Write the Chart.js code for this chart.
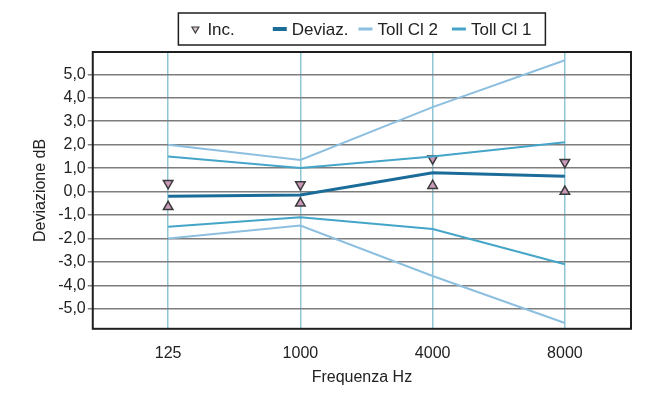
<!DOCTYPE html>
<html>
<head>
<meta charset="utf-8">
<script src="https://cdn.jsdelivr.net/npm/chart.js@4/dist/chart.umd.min.js"></script>
<style>
html, body { margin: 0; padding: 0; background: #fff; }
#wrap { width: 651px; height: 393px; }
</style>
</head>
<body>
<div id="wrap"><canvas id="chart" width="651" height="393"></canvas></div>
<script>
var frequencies = ["125", "1000", "4000", "8000"];
var yTicks = [-5, -4, -3, -2, -1, 0, 1, 2, 3, 4, 5];

var deviation = [-0.2, -0.15, 0.8, 0.65];
var incUpper = [0.35, 0.3, 1.4, 1.25];
var incLower = [-0.65, -0.5, 0.25, 0.0];
var tol2Upper = [2.0, 1.35, 3.6, 5.6];
var tol2Lower = [-2.0, -1.45, -3.6, -5.6];
var tol1Upper = [1.5, 1.0, 1.5, 2.1];
var tol1Lower = [-1.5, -1.1, -1.6, -3.1];

var FONT = "'Liberation Sans', Arial, sans-serif";
var devColor = "#1c6c9a";
var tol2Color = "#8dbfe0";
var tol1Color = "#45a5c8";
var incFill = "#c99ab9";
var incBorder = "#3a3a3a";

function toPoints(values) {
    return values.map(function(v, i) {
        return { x: i, y: v };
    });
}

function lineSet(label, values, color, width) {
    return {
        label: label,
        data: toPoints(values),
        borderColor: color,
        backgroundColor: color,
        borderWidth: width,
        pointRadius: 0,
        fill: false,
        tension: 0
    };
}

function markerSet(label, values, rotation) {
    return {
        label: label,
        data: toPoints(values),
        showLine: false,
        pointStyle: "triangle",
        rotation: rotation,
        pointRadius: 5.5,
        pointBackgroundColor: incFill,
        pointBorderColor: incBorder,
        pointBorderWidth: 1.5,
        isMarker: true
    };
}

// plot frame
var framePlugin = {
    id: "frame",
    beforeDatasetsDraw: function(chart) {
        var a = chart.chartArea, ctx = chart.ctx;
        ctx.save();
        ctx.strokeStyle = "#1e1e1e";
        ctx.lineWidth = 2;
        ctx.strokeRect(a.left, a.top, a.right - a.left, a.bottom - a.top);
        ctx.restore();
    }
};

// legend order: Inc., Deviaz., Toll Cl 2, Toll Cl 1
var legendOrder = [5, 4, 0, 2];
var legendGaps = [38, 10, 14, 4];

// boxed legend centred over the plot
var boxLegendPlugin = {
    id: "boxLegend",
    afterDraw: function(chart) {
        var ctx = chart.ctx, a = chart.chartArea;
        var items = legendOrder.map(function(i) { return chart.data.datasets[i]; });
        ctx.save();
        ctx.font = "17px " + FONT;
        var markW = 14, gap = 5, padX = 10;
        var total = 0;
        items.forEach(function(d, i) {
            total += markW + gap + ctx.measureText(d.label).width + legendGaps[i];
        });
        var boxW = total + padX * 2;
        var cx = (a.left + a.right) / 2;
        var x0 = cx - boxW / 2, y0 = 13, boxH = 32;

        ctx.fillStyle = "#fff";
        ctx.fillRect(x0, y0, boxW, boxH);
        ctx.strokeStyle = "#1e1e1e";
        ctx.lineWidth = 1.5;
        ctx.strokeRect(x0, y0, boxW, boxH);

        var x = x0 + padX, yMid = y0 + boxH / 2;
        items.forEach(function(d, i) {
            if (d.isMarker) {
                ctx.fillStyle = "#d9c7d3";
                ctx.strokeStyle = incBorder;
                ctx.lineWidth = 1.2;
                Chart.helpers.drawPoint(ctx, {
                    pointStyle: "triangle", rotation: 180, radius: 4,
                    borderWidth: 1.2
                }, x + markW / 2, yMid);
            } else {
                ctx.strokeStyle = d.borderColor;
                ctx.lineWidth = d.borderWidth + 1;
                ctx.beginPath();
                ctx.moveTo(x, yMid);
                ctx.lineTo(x + markW, yMid);
                ctx.stroke();
            }
            x += markW + gap;
            ctx.fillStyle = "#222";
            ctx.textBaseline = "middle";
            ctx.textAlign = "left";
            ctx.fillText(d.label, x, yMid + 1);
            x += ctx.measureText(d.label).width + legendGaps[i];
        });
        ctx.restore();
    }
};

var ctx = document.getElementById("chart").getContext("2d");

var datasets = [
    lineSet("Toll Cl 2", tol2Upper, tol2Color, 2),
    lineSet("Toll Cl 2", tol2Lower, tol2Color, 2),
    lineSet("Toll Cl 1", tol1Upper, tol1Color, 2),
    lineSet("Toll Cl 1", tol1Lower, tol1Color, 2),
    lineSet("Deviaz.", deviation, devColor, 3),
    markerSet("Inc.", incUpper, 180),
    markerSet("Inc.", incLower, 0)
];

var chart = new Chart(ctx, {
    type: "line",
    data: { datasets: datasets },
    options: {
        responsive: false,
        animation: false,
        layout: { padding: { top: 52, right: 20, bottom: 7, left: 31 } },
        plugins: {
            legend: { display: false },
            tooltip: { enabled: false }
        },
        scales: {
            x: {
                type: "linear",
                min: -0.57,
                max: 3.5,
                afterBuildTicks: function(axis) {
                    axis.ticks = frequencies.map(function(f, i) { return { value: i }; });
                },
                ticks: {
                    callback: function(v) { return frequencies[v]; },
                    color: "#222",
                    font: { family: FONT, size: 16 },
                    padding: 15,
                    maxRotation: 0
                },
                grid: { color: "#8fc6d6", lineWidth: 1.5, drawTicks: false },
                border: { display: false },
                title: {
                    display: true,
                    text: "Frequenza Hz",
                    color: "#222",
                    font: { family: FONT, size: 16, lineHeight: 1 },
                    padding: { top: -8, bottom: 0 }
                }
            },
            y: {
                min: -5.85,
                max: 5.95,
                afterBuildTicks: function(axis) {
                    axis.ticks = yTicks.map(function(v) { return { value: v }; });
                },
                ticks: {
                    callback: function(v) { return v.toFixed(1).replace(".", ","); },
                    color: "#222",
                    font: { family: FONT, size: 16 },
                    padding: 2
                },
                grid: { color: "#7d7d7d", lineWidth: 1.5, tickLength: 5 },
                border: { display: false },
                title: {
                    display: true,
                    text: "Deviazione dB",
                    color: "#222",
                    font: { family: FONT, size: 16 },
                    padding: { top: 0, bottom: 6 }
                }
            }
        }
    },
    plugins: [framePlugin, boxLegendPlugin]
});
</script>
</body>
</html>
